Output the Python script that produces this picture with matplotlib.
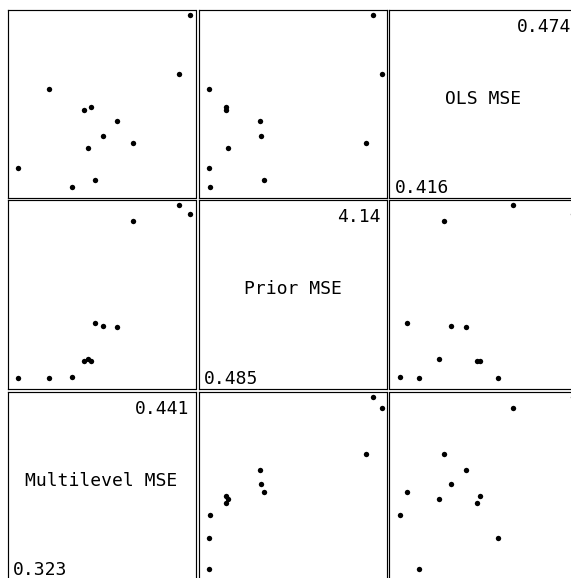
import numpy as np
import matplotlib
matplotlib.use('Agg')
import matplotlib.pyplot as plt

# twelve groups, one value of each error measure per group
ols_mse = [0.474, 0.454, 0.449, 0.4418, 0.4428, 0.4382, 0.4330, 0.4308, 0.4291, 0.4223, 0.4182, 0.416]
prior_mse = [3.957, 4.14, 0.485, 0.843, 0.850, 1.574, 1.589, 3.807, 0.880, 0.490, 1.640, 0.514]
multilevel_mse = [0.441, 0.433, 0.344, 0.368, 0.373, 0.391, 0.381, 0.402, 0.371, 0.323, 0.376, 0.360]

names = ['OLS MSE', 'Prior MSE', 'Multilevel MSE']
values = [ols_mse, prior_mse, multilevel_mse]

W, H = 571, 578
fig = plt.figure(figsize=(W / 100, H / 100), dpi=100)

cell = 188
col_left = [7.5, 198.5, 389.5]
row_top = [9.5, 200.5, 391.5]
pad_lo, pad_hi = 10.5 / 172.5, 5 / 172.5


def limits(v):
    lo, hi = min(v), max(v)
    r = hi - lo
    return lo - pad_lo * r, hi + pad_hi * r


px = 0.72  # points per pixel
for i in range(3):          # rows: OLS, Prior, Multilevel
    for j in range(3):      # columns: Multilevel, Prior, OLS
        xi = 2 - j
        ax = fig.add_axes([col_left[j] / W, 1 - (row_top[i] + cell) / H,
                           cell / W, cell / H])
        ax.set_xticks([])
        ax.set_yticks([])
        for s in ax.spines.values():
            s.set_linewidth(0.85)
            s.set_color('black')
        if xi == i:
            v = values[i]
            ax.set_xlim(0, 1)
            ax.set_ylim(0, 1)
            ax.text(0.5, 0.5, names[i], ha='center', va='baseline',
                    fontsize=13, family='DejaVu Sans Mono',
                    transform=ax.transAxes)
            ax.annotate(f'{max(v):.3g}', xy=(1, 1), xycoords='axes fraction',
                        xytext=(-6 * px, -22 * px), textcoords='offset points',
                        ha='right', va='baseline', fontsize=13,
                        family='DejaVu Sans Mono')
            ax.annotate(f'{min(v):.3g}', xy=(0, 0), xycoords='axes fraction',
                        xytext=(5 * px, 4.5 * px), textcoords='offset points',
                        ha='left', va='baseline', fontsize=13,
                        family='DejaVu Sans Mono')
        else:
            ax.scatter(values[xi], values[i], s=15, color='black',
                       linewidths=0, zorder=3)
            ax.set_xlim(*limits(values[xi]))
            ax.set_ylim(*limits(values[i]))

fig.savefig('out.png', dpi=100)
